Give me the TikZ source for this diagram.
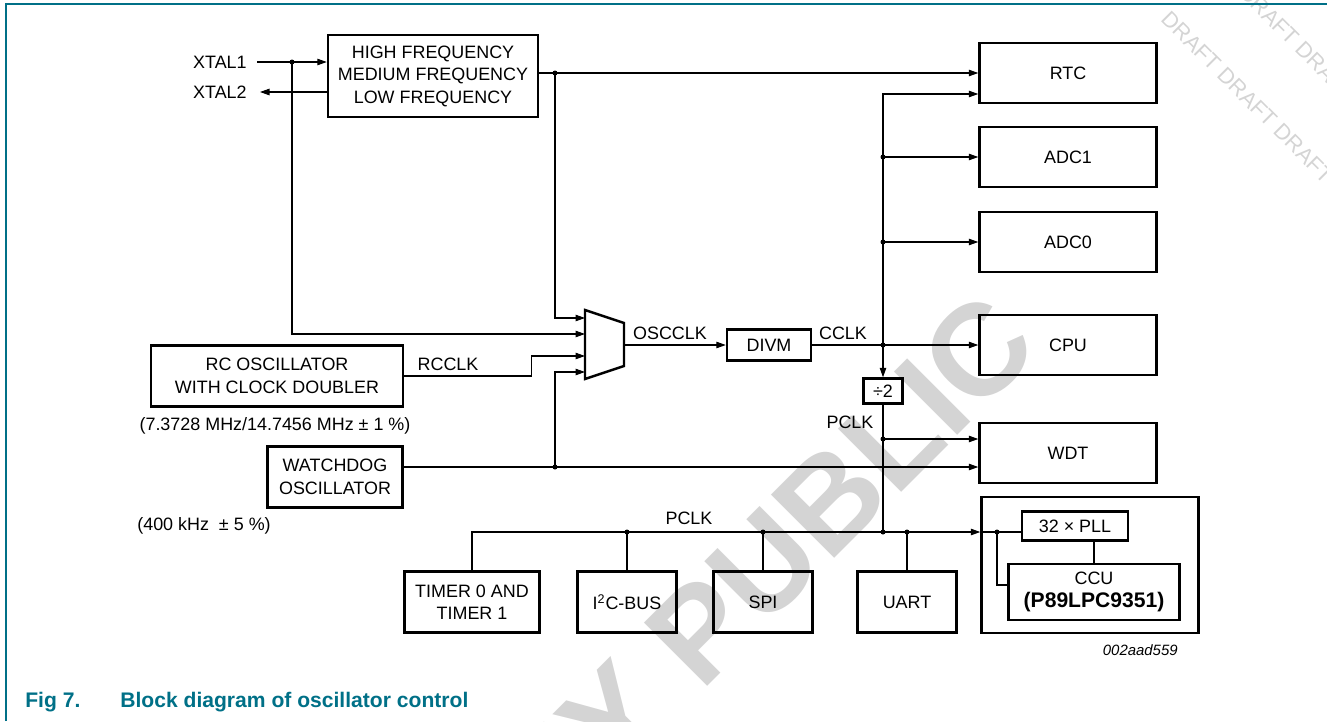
\documentclass[tikz,border=0pt]{standalone}
\usepackage{fontspec}
\setmainfont{Liberation Sans}
\usetikzlibrary{arrows.meta,calc}
\definecolor{nxpteal}{RGB}{0,112,135}

\begin{document}
\begin{tikzpicture}[x=0.2mm, y=-0.2mm, >={Triangle[length=1.9mm,width=1.3mm]},
    box/.style={draw, line width=1.4pt, align=center, inner sep=0pt, font=\fontsize{10.2}{12.8}\selectfont},
    lbl/.style={inner sep=0pt, font=\fontsize{10.2}{12.8}\selectfont},
    wire/.style={line width=0.6pt},
    dot/.style={circle, fill, inner sep=0pt, minimum size=1mm}]
    \useasboundingbox (0,0) rectangle (1327,721);

    % 1. Watermark and frame
    \begin{scope}
        \clip (0,0) rectangle (1327,721);
        \node[rotate=45, anchor=east, inner sep=0pt, text=black!17, font=\bfseries\fontsize{74}{80}\selectfont] (wmark) at (1012,318) {COMPANY PUBLIC};
        \node[rotate=-45, anchor=west, inner sep=0pt, text=black!17, font=\fontsize{12.5}{14}\selectfont] (drafta) at (1165,15) {DRAFT DRAFT DRAFT};
        \node[rotate=-45, anchor=west, inner sep=0pt, text=black!17, font=\fontsize{12.5}{14}\selectfont] (draftb) at (1243,-11) {DRAFT DRAFT DRAFT};
    \end{scope}
    \draw[nxpteal, line width=0.8pt] (6,721) -- (6,4) -- (1327,4);

    % 2. Clock sources
    \node[box, minimum width=42mm, minimum height=16.4mm] (osc) at (433,76) {HIGH FREQUENCY\\MEDIUM FREQUENCY\\LOW FREQUENCY};
    \node[lbl, inner xsep=2mm, anchor=east] (xtal1) at (257,62) {XTAL1};
    \node[lbl, inner xsep=2.6mm, anchor=east] (xtal2) at (260,92) {XTAL2};
    \node[box, minimum width=50.4mm, minimum height=12.2mm] (rc) at (277,376) {RC OSCILLATOR\\WITH CLOCK DOUBLER};
    \node[lbl] (rcfreq) at (275,426) {(7.3728 MHz/14.7456 MHz ± 1 \%)};
    \node[box, minimum width=27mm, minimum height=12.2mm] (wdog) at (335,477) {WATCHDOG\\OSCILLATOR};
    \node[lbl] (wdfreq) at (204,526) {(400 kHz\ \ ± 5 \%)};

    % 3. Selector, divider
    \draw[line width=1.4pt] (585,310) -- (624,323) -- (624,366) -- (585,379) -- cycle;
    \coordinate (in1) at (585,318);
    \coordinate (in2) at (585,334);
    \coordinate (in3) at (585,356);
    \coordinate (in4) at (585,372);
    \coordinate (muxout) at (624,345);
    \node[box, minimum width=16.8mm, minimum height=6.2mm] (divm) at (769,345) {DIVM};
    \node[box, minimum width=7.8mm, minimum height=5mm] (div2) at (883,391) {÷2};

    % 4. Peripherals
    \node[box, minimum width=35.4mm, minimum height=12mm] (rtc) at (1068,73) {RTC};
    \node[box, minimum width=35.4mm, minimum height=12mm] (adc1) at (1068,157) {ADC1};
    \node[box, minimum width=35.4mm, minimum height=12mm] (adc0) at (1068,242) {ADC0};
    \node[box, minimum width=35.4mm, minimum height=12mm] (cpu) at (1068,345) {CPU};
    \node[box, minimum width=35.4mm, minimum height=12mm] (wdt) at (1068,453) {WDT};
    \node[box, minimum width=43.4mm, minimum height=27.2mm] (ccuo) at (1090,565) {};
    \node[box, minimum width=21.2mm, minimum height=5.8mm] (pll) at (1075,526) {32 × PLL};
    \node[box, minimum width=34.2mm, minimum height=11.2mm] (ccu) at (1094,592) {CCU\\{\bfseries\fontsize{12}{13}\selectfont (P89LPC9351)}};
    \node[box, minimum width=27mm, minimum height=12.2mm] (timer) at (472,602) {TIMER 0 AND\\TIMER 1};
    \node[box, minimum width=19.8mm, minimum height=12.2mm] (i2c) at (627,602) {I\textsuperscript{2}C-BUS};
    \node[box, minimum width=19.8mm, minimum height=12.2mm] (spi) at (763,602) {SPI};
    \node[box, minimum width=19.8mm, minimum height=12.2mm] (uart) at (907,602) {UART};
    \node[lbl, anchor=east, font=\itshape\fontsize{8.5}{10}\selectfont] (figid) at (1178,650) {002aad559};

    % 5. Oscillator wiring
    \node[dot] (d1) at (292,62) {};
    \draw[wire, ->] (xtal1.east) -- (osc.west |- xtal1.east);
    \draw[wire, ->] (osc.west |- xtal2.east) -- (xtal2.east);
    \draw[wire, ->] (d1.center) |- (in2);
    \node[dot] (d2) at (555,73) {};
    \draw[wire, ->] (osc.east |- d2) -- (rtc.west);
    \draw[wire, ->] (d2.center) |- (in1);
    \draw[wire, ->] (rc.east) -- ++(127,0) |- (in3);
    \node[lbl] (rcclk) at (448,364) {RCCLK};
    \node[dot] (d4) at (555,467) {};
    \draw[wire, ->] (wdog.east |- d4) -- (wdt.west |- d4);
    \draw[wire, ->] (d4.center) |- (in4);

    % 6. CCLK and PCLK
    \draw[wire, ->] (muxout) -- (divm.west);
    \node[lbl] (oscclk) at (670,333) {OSCCLK};
    \draw[wire, ->] (divm.east) -- (cpu.west);
    \node[lbl] (cclk) at (843,333) {CCLK};
    \node[dot] (d5) at (883,345) {};
    \draw[wire, ->] (d5.center) |- ($(rtc.west)+(0,21)$);
    \node[dot] (d6) at (883,157) {};
    \draw[wire, ->] (d6.center) -- (adc1.west);
    \node[dot] (d7) at (883,242) {};
    \draw[wire, ->] (d7.center) -- (adc0.west);
    \draw[wire, ->] (d5.center) -- (div2.north);
    \node[dot] (d8) at (883,439) {};
    \node[dot] (d9) at (883,532) {};
    \draw[wire] (div2.south) -- (d9.center);
    \draw[wire, ->] (d8.center) -- (wdt.west |- d8);
    \node[lbl] (pclka) at (850,422) {PCLK};

    % 7. Peripheral bus
    \draw[wire, ->] (timer.north) |- (ccuo.west |- d9);
    \node[lbl] (pclkb) at (689,518) {PCLK};
    \node[dot] (d10) at (627,532) {};
    \node[dot] (d11) at (763,532) {};
    \node[dot] (d12) at (907,532) {};
    \draw[wire] (d10.center) -- (i2c.north);
    \draw[wire] (d11.center) -- (spi.north);
    \draw[wire] (d12.center) -- (uart.north);
    \node[dot] (d13) at (997,532) {};
    \draw[wire] (ccuo.west |- d9) -- (pll.west |- d9);
    \draw[wire] (d13.center) |- ($(ccu.west)+(0,-7)$);
    \draw[wire] (ccu.north) -- (ccu.north |- pll.south);

    % 8. Caption
    \node[anchor=base west, inner sep=0pt, text=nxpteal, font=\bfseries\fontsize{12}{14}\selectfont] (fignum) at (25,707) {Fig 7.};
    \node[anchor=base west, inner sep=0pt, text=nxpteal, font=\bfseries\fontsize{12}{14}\selectfont] (figtitle) at (120,707) {Block diagram of oscillator control};
\end{tikzpicture}
\end{document}
